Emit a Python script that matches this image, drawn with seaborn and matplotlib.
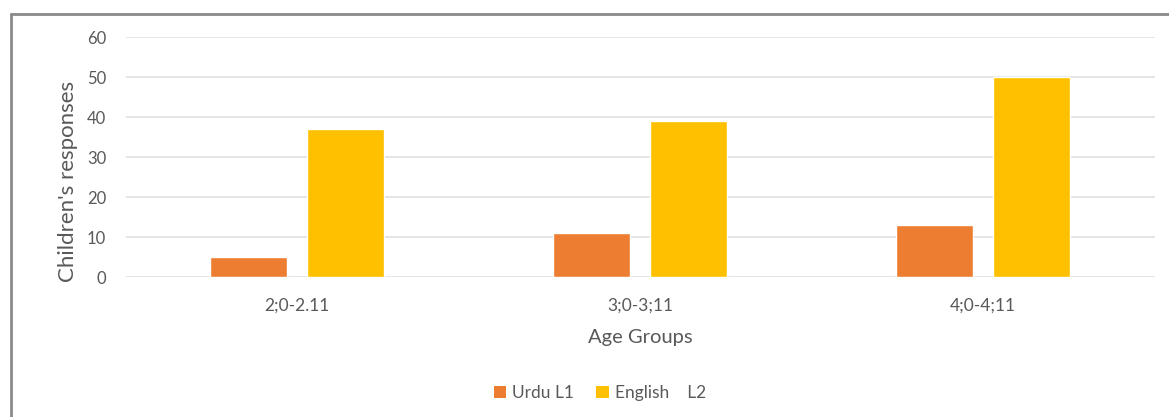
import matplotlib
matplotlib.use("Agg")
import matplotlib.pyplot as plt
import seaborn as sns
import pandas as pd
from matplotlib.lines import Line2D
from matplotlib.patches import Patch

categories = ["2;0-2.11", "3;0-3;11", "4;0-4;11"]
series_names = ["Urdu L1", "English    L2"]
urdu_values = [5, 11, 13]
english_values = [37, 39, 50]
yticks = [0, 10, 20, 30, 40, 50, 60]

df = pd.DataFrame({
    "Age Groups": categories * 2,
    "Language": [series_names[0]] * 3 + [series_names[1]] * 3,
    "Responses": urdu_values + english_values,
})

sns.set_theme(style="white")
plt.rcParams["font.family"] = ["Lato", "DejaVu Sans"]
text_color = "#595959"
colors = ["#ED7D31", "#FFC000"]

fig = plt.figure(figsize=(11.69, 4.17), dpi=100)
ax = fig.add_axes([125.5 / 1169, 1 - 277 / 417, 1029 / 1169, 240 / 417])

sns.barplot(data=df, x="Age Groups", y="Responses", hue="Language",
            palette=colors, width=0.57, gap=0.21, ax=ax, legend=False,
            saturation=1)

ax.set_ylim(0, 60)
ax.set_xlim(-0.5, 2.5)
ax.set_yticks(yticks)
ax.yaxis.grid(True, color="#E3E3E3", linewidth=1.3)
ax.set_axisbelow(True)
for s in ax.spines.values():
    s.set_visible(False)
ax.tick_params(axis="y", length=0, pad=14, labelsize=12, labelcolor=text_color)
ax.tick_params(axis="x", length=0, pad=15, labelsize=12.5, labelcolor=text_color)
ax.set_xlabel("Age Groups", fontsize=14.5, color=text_color, labelpad=11)
ax.set_ylabel("Children's responses", fontsize=16, color=text_color)
ax.yaxis.set_label_coords(-0.046, 0.40)

handles = [Patch(facecolor=c, edgecolor="none") for c in colors]
fig.legend(handles, series_names, loc="center", bbox_to_anchor=(600 / 1169, 1 - 393 / 417),
           ncol=2, frameon=False, fontsize=12.5, handlelength=0.7, handleheight=0.7,
           handletextpad=0.35, columnspacing=1.27, labelcolor=text_color)

# outer frame (top and left edges visible)
fig.add_artist(Line2D([11 / 1169, 1.0], [1 - 14 / 417, 1 - 14 / 417],
                      transform=fig.transFigure, color="#8A8A8A", linewidth=2))
fig.add_artist(Line2D([11 / 1169, 11 / 1169], [0, 1 - 14 / 417],
                      transform=fig.transFigure, color="#8A8A8A", linewidth=2))

fig.savefig("out.png", dpi=100, facecolor="white")
